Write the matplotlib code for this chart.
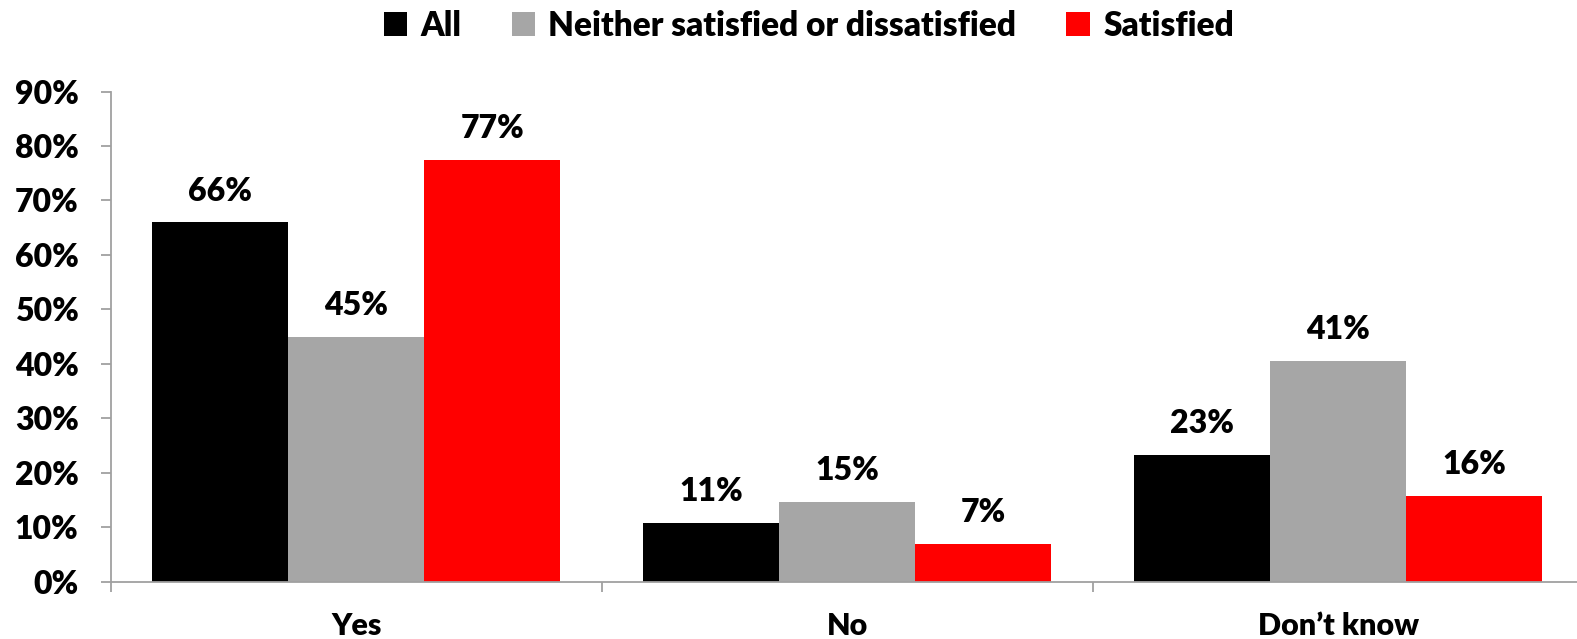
import matplotlib
matplotlib.use("Agg")
import matplotlib.pyplot as plt
import numpy as np
from matplotlib.ticker import FuncFormatter, FixedLocator

plt.rcParams['font.family'] = ['Lato', 'DejaVu Sans']
WT = 'heavy'
plt.rcParams['font.weight'] = WT

categories = ["Yes", "No", "Don\u2019t know"]
series_names = ["All", "Neither satisfied or dissatisfied", "Satisfied"]
all_vals = [66.0, 10.8, 23.3]
neither_vals = [44.9, 14.6, 40.6]
satisfied_vals = [77.5, 6.9, 15.7]
all_labels = ["66%", "11%", "23%"]
neither_labels = ["45%", "15%", "41%"]
satisfied_labels = ["77%", "7%", "16%"]
colors = ["#000000", "#a6a6a6", "#ff0000"]

fig = plt.figure(figsize=(15.77, 6.39), dpi=100)
ax = fig.add_axes([110.6/1577, 1-581.6/639, (1584-110.6)/1577, (581.6-91.6)/639])

x = np.arange(len(categories))
w = 0.277
series = [all_vals, neither_vals, satisfied_vals]
labels = [all_labels, neither_labels, satisfied_labels]
for i, (vals, labs, c, name) in enumerate(zip(series, labels, colors, series_names)):
    bars = ax.bar(x + (i - 1) * w, vals, width=w, color=c, label=name, zorder=2)
    for b, lab in zip(bars, labs):
        ax.annotate(lab, (b.get_x() + b.get_width()/2, b.get_height()),
                    xytext=(0, 12), textcoords='offset points',
                    ha='center', va='bottom', fontsize=23, fontweight=WT)

ax.set_xlim(-0.5, len(categories) - 0.5)
ax.set_ylim(0, 90)
ax.set_yticks(np.arange(0, 91, 10))
ax.yaxis.set_major_formatter(FuncFormatter(lambda v, p: f"{int(v)}%"))
ax.set_xticks(x)
ax.set_xticklabels(categories)
ax.xaxis.set_minor_locator(FixedLocator(np.arange(-0.5, len(categories), 1.0)))

for s in ['top', 'right']:
    ax.spines[s].set_visible(False)
for s in ['left', 'bottom']:
    ax.spines[s].set_color('#a0a0a0')
    ax.spines[s].set_linewidth(1.3)

ax.tick_params(axis='y', length=7, width=1.3, color='#a0a0a0', pad=16, labelsize=23)
ax.tick_params(axis='x', which='major', length=0, pad=22, labelsize=22)
ax.tick_params(axis='x', which='minor', length=7, width=1.3, color='#a0a0a0')
for t in ax.get_xticklabels() + ax.get_yticklabels():
    t.set_fontweight(WT)

leg = fig.legend(loc='upper center', bbox_to_anchor=(0.513, 1.032), ncol=3, frameon=False,
                 handlelength=0.7, handleheight=0.7, handletextpad=0.4,
                 columnspacing=1.5, prop={'weight': WT, 'size': 24})

fig.savefig("out.png", dpi=100)
